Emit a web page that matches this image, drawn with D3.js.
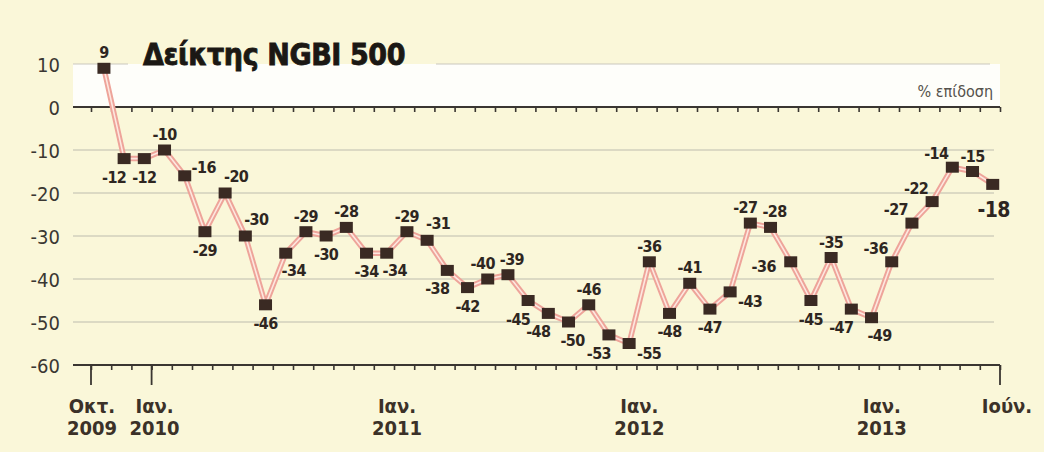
<!DOCTYPE html>
<html lang="el">
<head>
<meta charset="utf-8">
<title>Δείκτης NGBI 500</title>
<script src="https://d3js.org/d3.v7.min.js"></script>
<style>
  body { margin: 0; background: #faf7d9; }
  text { font-family: "DejaVu Sans Condensed", "DejaVu Sans", sans-serif; }
</style>
</head>
<body>
<script>
// monthly values, Oct 2009 .. Jun 2013
const values = [9, -12, -12, -10, -16, -29, -20, -30, -46, -34, -29, -30, -28, -34, -34,
  -29, -31, -38, -42, -40, -39, -45, -48, -50, -46, -53, -55, -36, -48, -41, -47, -43,
  -27, -28, -36, -45, -35, -47, -49, -36, -27, -22, -14, -15, -18];
// where each value label sits around its marker
const labelPos = ["t", "bl", "b", "t", "rt", "b", "tr", "tr", "b", "br", "t", "b", "t", "b", "br",
  "t", "tr", "bl", "b", "tL", "tR", "bl", "bl", "bR", "t", "bl", "r", "t", "b", "t", "b", "r",
  "tL", "tR", "l", "b", "t", "bl", "br", "tl", "tl", "tl", "tl", "t", "B"];
const yTicks = [10, 0, -10, -20, -30, -40, -50, -60];
const tickIndex = [0, 3, 15, 27, 39, 45];
const tickMonth = ["Οκτ.", "Ιαν.", "Ιαν.", "Ιαν.", "Ιαν.", "Ιούν."];
const tickYear = ["2009", "2010", "2011", "2012", "2013", ""];

const offsets = {
  t: [0, -10], tL: [-5, -10], tR: [4, -10], b: [0, 24], bR: [4, 24], bl: [-10, 24],
  br: [8, 23], tr: [11, -11], tl: [-16, -8], r: [20, 15], rt: [19, -3], l: [-27, 10], B: [1, 33]
};

const svg = d3.select("body").append("svg")
  .attr("width", 1044)
  .attr("height", 452);

svg.append("rect")
  .attr("width", 1044).attr("height", 452)
  .attr("fill", "#faf7d9");

const x = d3.scaleLinear().domain([-0.64, 44.36]).range([91, 1000]);
const y = d3.scaleLinear().domain([10, -60]).range([64, 365]);

const left = 73, right = 1000;

// white band between 10 and 0
svg.append("rect")
  .attr("x", left).attr("y", y(10))
  .attr("width", right - left).attr("height", y(0) - y(10))
  .attr("fill", "#fefefa");

// grid lines
svg.selectAll("line.grid")
  .data([-10, -20, -30, -40, -50])
  .enter().append("line")
    .attr("class", "grid")
    .attr("x1", left).attr("x2", right - 6)
    .attr("y1", d => y(d)).attr("y2", d => y(d))
    .attr("stroke", "#bdbcae").attr("stroke-width", 1);

// the 10 line is broken by the title
[[left, 128], [436, right - 10]].forEach(s => {
  svg.append("line")
    .attr("x1", s[0]).attr("x2", s[1])
    .attr("y1", y(10)).attr("y2", y(10))
    .attr("stroke", "#c9c8bd").attr("stroke-width", 1.2);
});

// month ticks on the 0 line and on the bottom line
const monthTicks = d3.range(46).map(i => i - 0.64);

[0, -60].forEach(v => {
  svg.append("line")
    .attr("x1", left).attr("x2", right)
    .attr("y1", y(v)).attr("y2", y(v))
    .attr("stroke", "#3a3631").attr("stroke-width", 2);

  const ax = svg.append("g")
    .attr("transform", `translate(0,${y(v)})`)
    .call(d3.axisBottom(x).tickValues(monthTicks).tickSize(5).tickSizeOuter(0).tickFormat(""));
  ax.select(".domain").remove();
  ax.selectAll(".tick line").attr("stroke", "#3a3631").attr("stroke-width", 1.6);
});

// long ticks at the labelled months of the bottom axis
svg.selectAll("line.major")
  .data([0, 3, 45])
  .enter().append("line")
    .attr("class", "major")
    .attr("x1", d => x(d - 0.64)).attr("x2", d => x(d - 0.64))
    .attr("y1", y(-60)).attr("y2", y(-60) + 20)
    .attr("stroke", "#3a3631").attr("stroke-width", 1.8);

// y labels
const yAx = svg.append("g")
  .attr("transform", "translate(60,0)")
  .call(d3.axisLeft(y).tickValues(yTicks).tickSize(0).tickPadding(0).tickFormat(d => String(d)));
yAx.select(".domain").remove();
yAx.selectAll("text")
  .attr("font-family", "DejaVu Sans Condensed, DejaVu Sans, sans-serif")
  .attr("font-size", 20)
  .attr("fill", "#3a3732")
  .attr("dy", "0.36em");

// x labels
const xl = svg.selectAll("g.xlab")
  .data(tickIndex)
  .enter().append("g")
    .attr("class", "xlab");
xl.append("text")
  .attr("x", (d, i) => x(d - 0.64) + (i === 0 ? 1 : i === tickIndex.length - 1 ? 7 : 3))
  .attr("y", 413)
  .attr("text-anchor", "middle")
  .attr("font-size", 20).attr("font-weight", "bold")
  .attr("fill", "#3b3128")
  .text((d, i) => tickMonth[i]);
xl.append("text")
  .attr("x", (d, i) => x(d - 0.64) + (i === 0 ? 1 : 3))
  .attr("y", 435)
  .attr("text-anchor", "middle")
  .attr("font-size", 20).attr("font-weight", "bold")
  .attr("fill", "#3b3128")
  .text((d, i) => tickYear[i]);

// series line, drawn twice for the doubled pink stroke
const line = d3.line().x((d, i) => x(i)).y(d => y(d));
svg.append("path")
  .datum(values)
  .attr("d", line)
  .attr("fill", "none")
  .attr("stroke", "#eea49a")
  .attr("stroke-width", 5.5)
  .attr("stroke-linejoin", "round");
svg.append("path")
  .datum(values)
  .attr("d", line)
  .attr("fill", "none")
  .attr("stroke", "#fde7df")
  .attr("stroke-width", 1.6)
  .attr("stroke-linejoin", "round");

// markers
svg.selectAll("rect.pt")
  .data(values)
  .enter().append("rect")
    .attr("class", "pt")
    .attr("x", (d, i) => x(i) - 6.5)
    .attr("y", d => y(d) - 5.5)
    .attr("width", 13).attr("height", 11)
    .attr("fill", "#3a2a23");

// value labels
svg.selectAll("text.val")
  .data(values)
  .enter().append("text")
    .attr("class", "val")
    .attr("x", (d, i) => x(i) + offsets[labelPos[i]][0])
    .attr("y", (d, i) => y(d) + offsets[labelPos[i]][1])
    .attr("text-anchor", "middle")
    .attr("font-size", (d, i) => labelPos[i] === "B" ? 21 : 16)
    .attr("font-weight", "bold")
    .attr("letter-spacing", -0.6)
    .attr("fill", "#2e2621")
    .text(d => d);

// title and unit
svg.append("text")
  .attr("x", 143).attr("y", 65)
  .attr("font-size", 30).attr("font-weight", "bold")
  .attr("letter-spacing", -0.4)
  .attr("fill", "#1b1814")
  .attr("stroke", "#1b1814").attr("stroke-width", 0.8)
  .text("Δείκτης NGBI 500");

svg.append("text")
  .attr("x", 993).attr("y", 97)
  .attr("text-anchor", "end")
  .attr("font-size", 16)
  .attr("fill", "#55524c")
  .text("% επίδοση");
</script>
</body>
</html>
